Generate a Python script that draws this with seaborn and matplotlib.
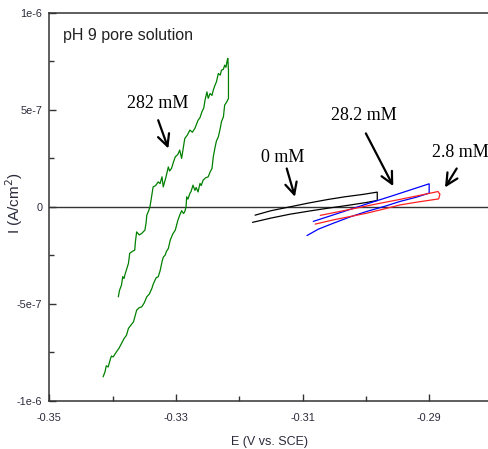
import numpy as np
import pandas as pd
import matplotlib
matplotlib.use("Agg")
import matplotlib.pyplot as plt
import seaborn as sns

# ---------------- data (E in V vs SCE, I in 1e-7 A/cm^2) ----------------
E_282 = [-0.3391, -0.3389, -0.3386, -0.3384, -0.3382, -0.3380, -0.3375, -0.3373, -0.3369, -0.3365,
         -0.3364, -0.3362, -0.3358, -0.3354, -0.3349, -0.3347, -0.3346, -0.3343, -0.3341, -0.3338,
         -0.3336, -0.3332, -0.3328, -0.3325, -0.3322, -0.3320, -0.3316, -0.3312, -0.3310, -0.3307,
         -0.3304, -0.3301, -0.3297, -0.3294, -0.3291, -0.3288, -0.3286, -0.3282, -0.3278, -0.3274,
         -0.3270, -0.3267, -0.3265, -0.3262, -0.3259, -0.3256, -0.3254, -0.3251, -0.3249, -0.3246,
         -0.3243, -0.3241, -0.3238, -0.3236, -0.3233, -0.3230, -0.3228, -0.3225, -0.3223, -0.3221,
         -0.3219, -0.3218, -0.3217, -0.3217,
         -0.3220, -0.3223, -0.3225, -0.3228, -0.3230, -0.3233, -0.3236, -0.3238, -0.3241, -0.3243,
         -0.3246, -0.3249, -0.3253, -0.3257, -0.3260, -0.3262, -0.3265, -0.3268, -0.3270, -0.3273,
         -0.3276, -0.3278, -0.3281, -0.3283, -0.3284, -0.3286, -0.3288, -0.3291, -0.3294, -0.3297,
         -0.3299, -0.3301, -0.3305, -0.3309, -0.3312, -0.3315, -0.3317, -0.3320, -0.3322, -0.3325,
         -0.3328, -0.3331, -0.3333, -0.3336, -0.3338, -0.3342, -0.3346, -0.3350, -0.3354, -0.3358,
         -0.3362, -0.3365, -0.3367, -0.3371, -0.3375, -0.3378, -0.3382, -0.3386, -0.3390, -0.3394,
         -0.3399, -0.3402, -0.3404, -0.3407, -0.3410, -0.3412, -0.3415]
I_282 = [-4.64, -4.30, -4.04, -3.60, -3.70, -3.44, -2.92, -2.40, -2.30, -2.23,
         -1.80, -1.29, -1.45, -1.37, -1.20, -0.80, -0.43, -0.20, 0.00, 0.60,
         1.03, 1.10, 1.29, 1.20, 1.55, 1.03, 1.50, 2.06, 1.85, 1.98,
         2.30, 2.58, 2.70, 2.93, 2.50, 3.10, 3.53, 3.70, 3.96, 3.85,
         4.05, 4.30, 4.47, 4.60, 4.90, 5.10, 5.51, 5.93, 5.60, 5.85,
         5.75, 6.02, 6.30, 6.45, 6.88, 6.80, 7.05, 7.10, 7.31, 7.20,
         7.55, 7.66, 7.05, 5.59,
         5.40, 5.25, 4.64, 4.40, 4.05, 3.61, 3.40, 3.10, 2.58, 1.98,
         1.80, 1.55, 1.50, 1.38, 1.10, 1.21, 0.77, 1.00, 0.85, 1.12,
         0.80, 0.69, 0.40, 0.52, 0.00, -0.25, -0.34, -0.20, -0.43, -0.70,
         -0.94, -1.20, -1.40, -1.72, -2.15, -2.30, -2.49, -2.60, -2.84, -3.30,
         -3.61, -3.65, -3.78, -4.00, -4.21, -4.50, -4.64, -4.95, -5.16, -5.20,
         -5.33, -5.70, -5.93, -6.10, -6.27, -6.62, -6.80, -7.05, -7.30, -7.48,
         -7.74, -7.70, -7.91, -8.26, -8.20, -8.51, -8.77]

E_0 = [-0.3175, -0.3150, -0.3120, -0.3090, -0.3060, -0.3033, -0.3005, -0.2982,
       -0.2982, -0.3000, -0.3030, -0.3060, -0.3090, -0.3120, -0.3150, -0.3179]
I_0 = [-0.43, -0.20, 0.00, 0.20, 0.38, 0.52, 0.64, 0.76,
       0.33, 0.22, 0.07, -0.07, -0.22, -0.38, -0.58, -0.80]

E_28 = [-0.3083, -0.3050, -0.3020, -0.2990, -0.2960, -0.2930, -0.2900,
        -0.2900, -0.2920, -0.2946, -0.2970, -0.2999, -0.3025, -0.3051, -0.3075, -0.3093]
I_28 = [-0.75, -0.40, -0.08, 0.24, 0.55, 0.87, 1.19,
        0.71, 0.50, 0.28, 0.03, -0.24, -0.52, -0.84, -1.15, -1.48]

E_2 = [-0.3072, -0.3040, -0.3010, -0.2980, -0.2950, -0.2920, -0.2886, -0.2883, -0.2885,
       -0.2920, -0.2946, -0.2970, -0.2999, -0.3025, -0.3051, -0.3080]
I_2 = [-0.44, -0.23, -0.03, 0.17, 0.36, 0.56, 0.79, 0.65, 0.41,
       0.24, 0.10, -0.10, -0.33, -0.50, -0.67, -0.89]

series_names = ["282 mM", "0 mM", "28.2 mM", "2.8 mM"]
series_colors = ["#008000", "#000000", "#0000ff", "#ff2020"]

x_ticks = [-0.35, -0.33, -0.31, -0.29]
x_tick_labels = ["-0.35", "-0.33", "-0.31", "-0.29"]
y_ticks = [1e-6, 5e-7, 0, -5e-7, -1e-6]
y_tick_labels = ["1e-6", "5e-7", "0", "-5e-7", "-1e-6"]

# ---------------- build table ----------------
frames = []
for name, E, I in zip(series_names, [E_282, E_0, E_28, E_2], [I_282, I_0, I_28, I_2]):
    frames.append(pd.DataFrame({"E": E, "I": np.array(I) * 1e-7, "series": name,
                                "order": np.arange(len(E))}))
df = pd.concat(frames, ignore_index=True)

sns.set_theme(style="white")
plt.rcParams["font.family"] = ["Liberation Sans", "DejaVu Sans"]

fig = plt.figure(figsize=(4.89, 4.49), dpi=100)
ax = fig.add_axes([0.1008, 0.1076, 0.8992, 0.8634])

for name, col in zip(series_names, series_colors):
    sub = df[df["series"] == name]
    sns.lineplot(data=sub, x="E", y="I", sort=False, estimator=None, color=col,
                 lw=0.9, ax=ax, legend=False)

ax.axhline(0, color="#333333", lw=1.0, zorder=1)

ax.set_xlim(-0.35, -0.28055)
ax.set_ylim(-1e-6, 1e-6)
ax.set_xticks(x_ticks)
ax.set_xticklabels(x_tick_labels)
ax.set_xticks([-0.34, -0.32, -0.30], minor=True)
ax.set_yticks(y_ticks)
ax.set_yticklabels(y_tick_labels)
ax.set_yticks([7.5e-7, 2.5e-7, -2.5e-7, -7.5e-7], minor=True)

ax.tick_params(which="major", direction="in", length=5, width=1.0, color="#333333",
               labelsize=7.8, labelcolor="#2b2b3b")
ax.tick_params(axis="x", which="major", pad=9)
ax.tick_params(axis="y", which="major", pad=5)
ax.tick_params(which="minor", direction="in", length=3.5, width=1.0, color="#333333")
ax.tick_params(axis="x", which="both", bottom=True, top=False)
ax.tick_params(axis="y", which="both", left=True, right=False)

for s in ["left", "bottom", "top"]:
    ax.spines[s].set_color("#333333")
    ax.spines[s].set_linewidth(1.1)
ax.spines["right"].set_visible(False)

ax.set_xlabel("E (V vs. SCE)", fontsize=9, color="#2b2b3b")
ax.xaxis.set_label_coords(0.5, -0.092)
ax.set_ylabel("I (A/cm$^2$)", fontsize=11, color="#2b2b3b")
ax.yaxis.set_label_coords(-0.056, 0.51)

ax.text(-0.3479, 8.82e-7, "pH 9 pore solution", fontsize=11.5, color="#222222",
        ha="left", va="center")

serif = ["Liberation Serif", "DejaVu Serif"]
arrow = dict(arrowstyle="->,head_length=0.7,head_width=0.35", color="black", lw=1.6,
             shrinkA=0, shrinkB=0)
ann = [("282 mM", (-0.3329, 5.35e-7), (-0.3328, 4.47e-7), (-0.3312, 3.01e-7)),
       ("0 mM", (-0.3132, 2.56e-7), (-0.3125, 1.98e-7), (-0.3112, 0.52e-7)),
       ("28.2 mM", (-0.3003, 4.73e-7), (-0.3000, 3.79e-7), (-0.29567, 1.07e-7)),
       ("2.8 mM", (-0.2850, 2.82e-7), (-0.28565, 1.98e-7), (-0.2875, 1.0e-7))]
for txt, tpos, tail, tip in ann:
    ax.text(tpos[0], tpos[1], txt, fontsize=13, family=serif, ha="center", va="center",
            color="black")
    ax.annotate("", xy=tip, xytext=tail, arrowprops=arrow)

fig.savefig("out.png", dpi=100)
